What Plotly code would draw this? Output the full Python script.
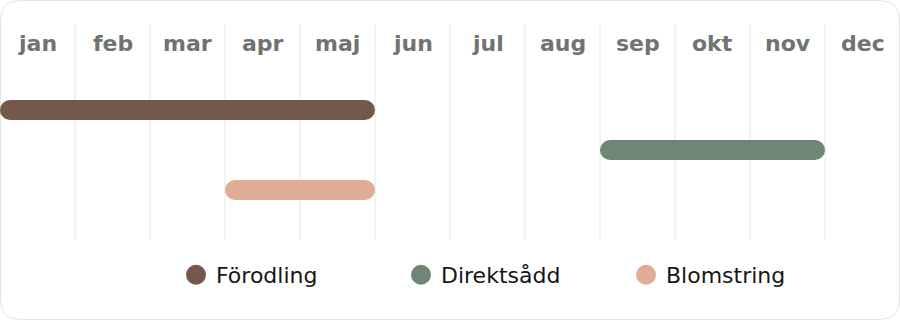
import plotly.graph_objects as go

# Month labels along the top
months = ["jan", "feb", "mar", "apr", "maj", "jun", "jul", "aug", "sep", "okt", "nov", "dec"]

# Activities: name, first month index (0 = jan), month after the last one
activities = ["Förodling", "Direktsådd", "Blomstring"]
start_month = [0, 8, 3]
end_month = [5, 11, 5]
colors = ["#74594b", "#6e8675", "#e0ad97"]

FONT = "DejaVu Sans"
W, H = 900, 320

fig = go.Figure()

for i, (name, s, e, c) in enumerate(zip(activities, start_month, end_month, colors)):
    fig.add_trace(go.Bar(
        orientation="h",
        y=[i],
        x=[e - s],
        base=[s],
        width=0.5,
        marker=dict(color=c, cornerradius=10, line=dict(width=0)),
        showlegend=False,
        hoverinfo="skip",
    ))

# Legend entries shown as round dots
for name, c in zip(activities, colors):
    fig.add_trace(go.Scatter(
        x=[None], y=[None], mode="markers", name=name,
        marker=dict(color=c, size=16, symbol="circle", line=dict(color=c, width=4)),
    ))

# Vertical separators between months
shapes = []
for m in range(1, len(months)):
    shapes.append(dict(
        type="line", xref="x", yref="paper",
        x0=m, x1=m, y0=1 - 240 / H, y1=1 - 24 / H,
        line=dict(color="#e6e6e6", width=1), layer="below",
    ))

# Rounded card outline
r = 20
rx, ry = r / W, r / H
px0, px1 = 0.5 / W, 1 - 0.5 / W
py0, py1 = 0.5 / H, 1 - 0.5 / H
path = (
    f"M {px0 + rx},{py1} L {px1 - rx},{py1} Q {px1},{py1} {px1},{py1 - ry} "
    f"L {px1},{py0 + ry} Q {px1},{py0} {px1 - rx},{py0} "
    f"L {px0 + rx},{py0} Q {px0},{py0} {px0},{py0 + ry} "
    f"L {px0},{py1 - ry} Q {px0},{py1} {px0 + rx},{py1} Z"
)
shapes.append(dict(type="path", xref="paper", yref="paper", path=path,
                   line=dict(color="#e3e3e3", width=1), layer="below"))

annotations = [
    dict(x=i + 0.5, y=1 - 43 / H, xref="x", yref="paper", text=m, showarrow=False,
         xanchor="center", yanchor="middle",
         font=dict(family=FONT, size=22, color="#6f7472", weight=700))
    for i, m in enumerate(months)
]

fig.update_layout(
    width=W, height=H,
    margin=dict(l=0, r=0, t=0, b=0),
    paper_bgcolor="white", plot_bgcolor="rgba(0,0,0,0)",
    barmode="overlay",
    xaxis=dict(range=[0, 12], visible=False, fixedrange=True),
    yaxis=dict(range=[5.25, -2.75], visible=False, fixedrange=True),
    shapes=shapes,
    annotations=annotations,
    showlegend=True,
    legend=dict(
        orientation="h", x=176 / W, xanchor="left", y=1 - 275 / H, yanchor="middle",
        font=dict(family=FONT, size=22, color="#151515"),
        bgcolor="rgba(0,0,0,0)", entrywidth=180, entrywidthmode="pixels",
        itemsizing="trace",
    ),
)

fig.write_html("out.html", config={"displayModeBar": False})
